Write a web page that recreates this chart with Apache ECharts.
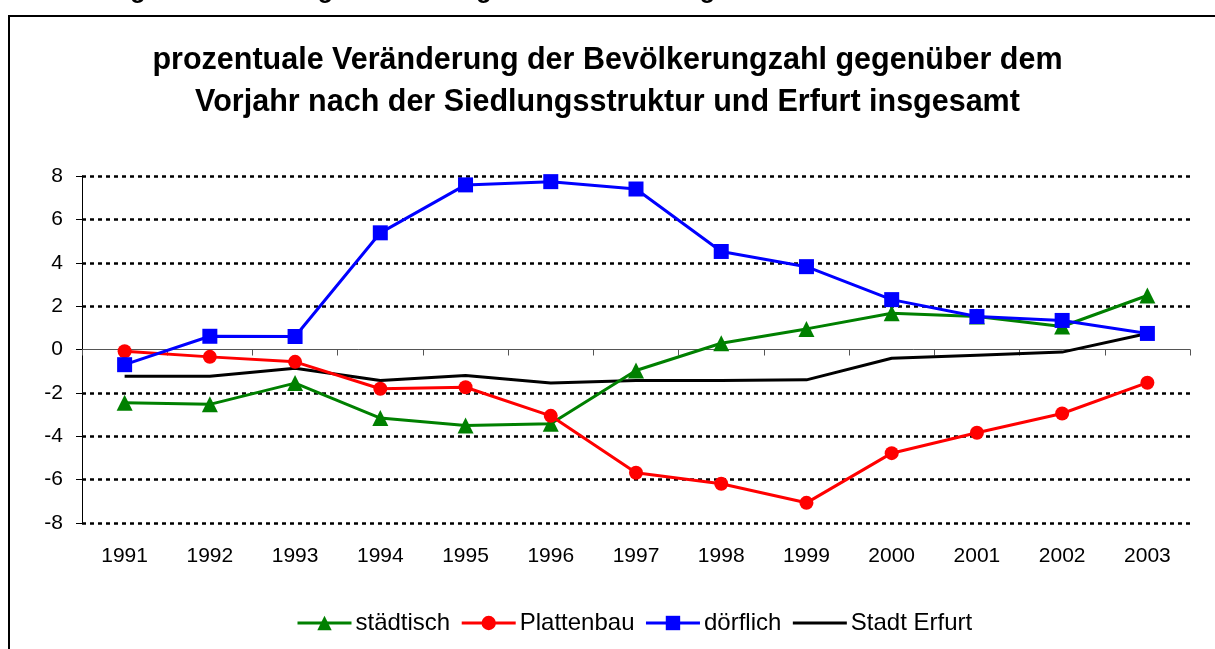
<!DOCTYPE html>
<html>
<head>
<meta charset="utf-8">
<script src="https://cdn.jsdelivr.net/npm/echarts@6/dist/echarts.min.js"></script>
<style>
html,body{margin:0;padding:0;background:#fff;}
#chart{width:1215px;height:649px;}
</style>
</head>
<body>
<div id="chart"></div>
<script>
var years = ['1991','1992','1993','1994','1995','1996','1997','1998','1999','2000','2001','2002','2003'];
var staedtisch = [-2.46, -2.53, -1.55, -3.16, -3.5, -3.42, -0.97, 0.29, 0.95, 1.67, 1.52, 1.06, 2.49];
var plattenbau = [-0.08, -0.34, -0.57, -1.81, -1.74, -3.06, -5.68, -6.19, -7.07, -4.78, -3.84, -2.95, -1.53];
var doerflich = [-0.7, 0.61, 0.6, 5.38, 7.59, 7.74, 7.4, 4.52, 3.82, 2.3, 1.52, 1.34, 0.74];
var stadtErfurt = [-1.23, -1.23, -0.86, -1.43, -1.2, -1.55, -1.43, -1.43, -1.4, -0.4, -0.26, -0.12, 0.74];
var seriesNames = ['städtisch', 'Plattenbau', 'dörflich', 'Stadt Erfurt'];
var seriesColors = ['#008000', '#ff0000', '#0000ff', '#000000'];
var titleText = 'prozentuale Veränderung der Bevölkerungzahl gegenüber dem\nVorjahr nach der Siedlungsstruktur und Erfurt insgesamt';
var captionText = 'Abbildung 3: Bevölkerungsentwicklung nach der Siedlungsstruktur';

var FONT = '"Liberation Sans", Arial, sans-serif';
var chart = echarts.init(document.getElementById('chart'), null, {renderer: 'canvas'});
var gridColors = ['#000','#000','#000','#000','rgba(0,0,0,0)','#000','#000','#000','#000'];

var legendData = seriesNames.map(function (n, i) {
  var item = {name: n, lineStyle: {width: 3, color: seriesColors[i]}};
  if (i === 3) { item.itemStyle = {opacity: 0}; }
  return item;
});

var option = {
  backgroundColor: '#fff',
  animation: false,
  graphic: [
    {type: 'rect', shape: {x: 9, y: 16, width: 1300, height: 700}, style: {fill: 'none', stroke: '#000', lineWidth: 2}, z: 0},
    {type: 'text', left: 22, top: -21, style: {text: captionText, font: 'bold 25px ' + FONT, fill: '#000'}}
  ],
  title: {
    text: titleText,
    left: 'center',
    top: 35,
    textStyle: {fontFamily: FONT, fontSize: 30.5, fontWeight: 'bold', color: '#000', lineHeight: 42}
  },
  legend: {
    left: 291,
    top: 606,
    itemWidth: 54,
    itemHeight: 18,
    itemGap: 10,
    textStyle: {fontFamily: FONT, fontSize: 24, color: '#000', padding: [0,0,0,-1]},
    data: legendData
  },
  grid: {left: 82, right: 25, top: 176, bottom: 126, containLabel: false},
  xAxis: [
    {
      type: 'category', data: years, boundaryGap: true,
      axisLine: {onZero: true, lineStyle: {color: '#555', width: 1}},
      axisTick: {show: true, inside: false, length: 6, lineStyle: {color: '#555'}},
      axisLabel: {show: false},
      splitLine: {show: false}
    },
    {
      type: 'category', data: years, boundaryGap: true, position: 'bottom',
      axisLine: {show: false, onZero: false},
      axisTick: {show: false},
      axisLabel: {show: true, margin: 23, fontFamily: FONT, fontSize: 21, color: '#000'},
      splitLine: {show: false}
    }
  ],
  yAxis: {
    type: 'value', min: -8, max: 8, interval: 2,
    axisLine: {show: true, lineStyle: {color: '#000', width: 1}},
    axisTick: {show: true, length: 6, lineStyle: {color: '#000'}},
    axisLabel: {margin: 19, fontFamily: FONT, fontSize: 21, color: '#000'},
    splitLine: {show: true, lineStyle: {color: gridColors, width: 2.5, type: [4, 4]}}
  },
  series: [
    {name: seriesNames[0], type: 'line', xAxisIndex: 0, data: staedtisch, symbol: 'triangle', symbolSize: 16,
     lineStyle: {color: seriesColors[0], width: 3}, itemStyle: {color: seriesColors[0]}, z: 3},
    {name: seriesNames[1], type: 'line', xAxisIndex: 0, data: plattenbau, symbol: 'circle', symbolSize: 14,
     lineStyle: {color: seriesColors[1], width: 3}, itemStyle: {color: seriesColors[1]}, z: 3},
    {name: seriesNames[2], type: 'line', xAxisIndex: 0, data: doerflich, symbol: 'rect', symbolSize: 15,
     lineStyle: {color: seriesColors[2], width: 3}, itemStyle: {color: seriesColors[2]}, z: 4},
    {name: seriesNames[3], type: 'line', xAxisIndex: 0, data: stadtErfurt, symbol: 'none', showSymbol: false,
     lineStyle: {color: seriesColors[3], width: 3}, itemStyle: {color: seriesColors[3]}, z: 2}
  ]
};
chart.setOption(option);
</script>
</body>
</html>
